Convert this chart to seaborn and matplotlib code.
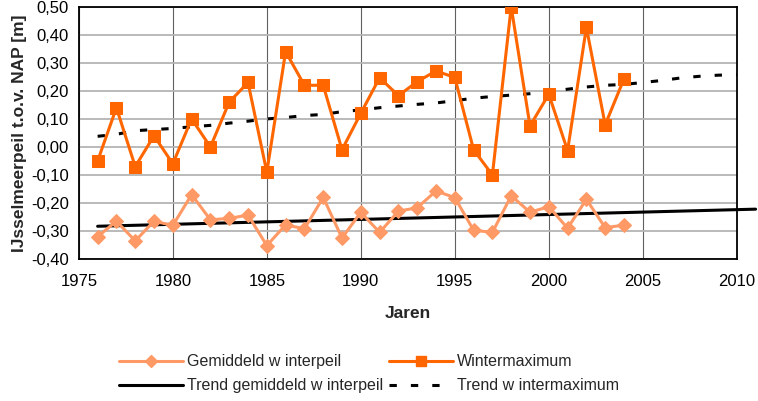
import numpy as np
import pandas as pd
import seaborn as sns
import matplotlib
matplotlib.use('Agg')
import matplotlib.pyplot as plt
from matplotlib.ticker import FuncFormatter, MultipleLocator
from matplotlib.lines import Line2D

# data
years = list(range(1976, 2005))
gemiddeld = [-0.32, -0.265, -0.335, -0.265, -0.28, -0.17, -0.26, -0.255, -0.243, -0.352,
             -0.278, -0.292, -0.18, -0.325, -0.233, -0.305, -0.229, -0.217, -0.157, -0.181,
             -0.297, -0.305, -0.174, -0.233, -0.213, -0.29, -0.187, -0.288, -0.279]
wintermax = [-0.05, 0.14, -0.07, 0.04, -0.06, 0.10, 0.00, 0.16, 0.23, -0.09,
             0.34, 0.22, 0.22, -0.01, 0.12, 0.247, 0.183, 0.233, 0.271, 0.248,
             -0.01, -0.10, 0.50, 0.075, 0.188, -0.013, 0.427, 0.079, 0.243]

trend_years = list(range(1976, 2011))
trend_wintermax = [0.038, 0.045, 0.058, 0.062, 0.066, 0.072, 0.077, 0.085, 0.092, 0.100,
                   0.105, 0.112, 0.116, 0.126, 0.132, 0.140, 0.146, 0.152, 0.157, 0.165,
                   0.174, 0.180, 0.185, 0.190, 0.198, 0.206, 0.214, 0.220, 0.223, 0.230,
                   0.237, 0.246, 0.252, 0.256, 0.258]
trend_gem_years = [1976, 2011]
trend_gemiddeld = [-0.283, -0.222]

df = pd.DataFrame({'jaar': years, 'gem': gemiddeld, 'wmax': wintermax})
dft = pd.DataFrame({'jaar': trend_years, 'trend': trend_wintermax})
dfg = pd.DataFrame({'jaar': trend_gem_years, 'trend': trend_gemiddeld})

sns.set_style('white')
plt.rcParams['font.family'] = ['Liberation Sans', 'DejaVu Sans']

fig = plt.figure(figsize=(7.58, 4.01), dpi=100)
ax = fig.add_axes([0.104, 0.354, 0.868, 0.629])

light = '#FF9966'
dark = '#FF6600'
dash = (2.4, 4.6)

sns.lineplot(x='jaar', y='trend', data=dfg, ax=ax, color='black', linewidth=2.2,
             clip_on=False, zorder=3)
sns.lineplot(x='jaar', y='trend', data=dft, ax=ax, color='black', linewidth=2.2,
             zorder=3).lines[-1].set_dashes(dash)
sns.lineplot(x='jaar', y='gem', data=df, ax=ax, color=light, linewidth=2.2,
             marker='D', markersize=7.5, markeredgecolor=light, zorder=4)
sns.lineplot(x='jaar', y='wmax', data=df, ax=ax, color=dark, linewidth=2.2,
             marker='s', markersize=8.5, markeredgecolor=dark, zorder=5)

ax.set_xlim(1975, 2010)
ax.set_ylim(-0.40, 0.50)
ax.xaxis.set_major_locator(MultipleLocator(5))
ax.yaxis.set_major_locator(MultipleLocator(0.1))
ax.yaxis.set_major_formatter(FuncFormatter(lambda v, p: f'{v:.2f}'.replace('.', ',').replace('-0,00', '0,00')))

ax.grid(axis='y', color='#b4b4b4', linewidth=1.3)
ax.grid(axis='x', color='#606060', linewidth=0.8)
ax.set_axisbelow(True)
for s in ax.spines.values():
    s.set_color('black')
    s.set_linewidth(1.3)
ax.tick_params(direction='out', length=5, width=1, colors='black', labelsize=12, pad=2)
ax.tick_params(axis='x', pad=6)

ax.set_xlabel('Jaren', fontsize=12.5, fontweight='bold', labelpad=12)
ax.set_ylabel('IJsselmeerpeil t.o.v. NAP [m]', fontsize=12.5, fontweight='bold', labelpad=3)

handles = [
    Line2D([], [], color=light, lw=2.2, marker='D', markersize=6, markeredgecolor=light),
    Line2D([], [], color='black', lw=2.2),
    Line2D([], [], color=dark, lw=2.2, marker='s', markersize=7, markeredgecolor=dark),
    Line2D([], [], color='black', lw=2.2, dashes=dash),
]
labels = ['Gemiddeld w interpeil', 'Trend gemiddeld w interpeil',
          'Wintermaximum', 'Trend w intermaximum']
fig.legend(handles, labels, loc='center', bbox_to_anchor=(0.487, 0.068), ncol=2,
           frameon=False, fontsize=11.5, handlelength=4.0, handletextpad=0.25,
           columnspacing=0.4, labelspacing=0.55)

fig.savefig('out.png', dpi=100)
